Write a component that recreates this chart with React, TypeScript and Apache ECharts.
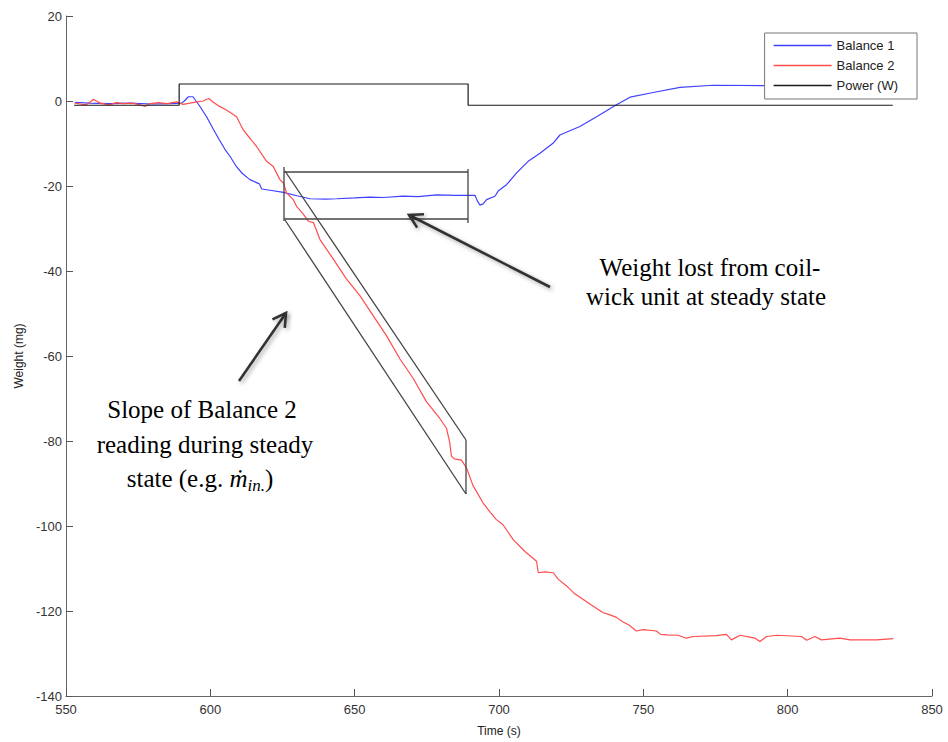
import React, { useEffect, useRef } from "react";
import * as echarts from "echarts";

const xTicks = { min: 550, max: 850, interval: 50 };
const yTicks = { min: -140, max: 20, interval: 20 };

const b1Time = [553, 558, 565, 572, 580, 586, 590, 591, 592.4, 594, 596.4, 598.7, 601, 603, 605, 606.8, 609, 611, 613.7, 616, 617, 617.8, 620.7, 625.3, 630, 634.5, 640, 643.8, 650, 655.3, 660, 666.8, 672, 678.4, 685, 691.7, 692.5, 693.4, 694.5, 695.7, 698.6, 699.7, 702.6, 706.1, 710.1, 714.2, 718.8, 721.1, 728, 733.8, 740.7, 745.4, 753.4, 762.7, 774.2, 792, 810, 837];
const b1Value = [-0.3, -0.5, -0.6, -0.5, -0.7, -0.6, -0.5, 0, 1, 1, -1.3, -3.7, -6.6, -9, -11.3, -13, -15.4, -17, -18.5, -19.2, -19.5, -20.7, -21, -21.5, -22.3, -23, -23.1, -23, -22.8, -22.6, -22.7, -22.4, -22.5, -22.1, -22.2, -22.2, -23.5, -24.5, -24.2, -23.2, -22.4, -21.2, -19.7, -16.9, -14.2, -12.3, -9.9, -8, -6, -3.7, -0.9, 0.9, 2, 3.2, 3.7, 3.6, 3.6, 3.6];

const b2Time = [553, 555, 557, 558.5, 559.5, 560.5, 561.8, 565, 567.5, 570, 573, 575, 577.4, 579, 582, 585, 588.3, 590.6, 593, 595.3, 597.6, 598.7, 599.5, 601, 603, 605.6, 609.1, 611.4, 614, 616, 619.5, 621.8, 624.1, 625.3, 626.4, 628.7, 629.9, 632.2, 634, 635.7, 638, 642.6, 647.2, 651.8, 656.4, 661, 665.7, 670.3, 674.9, 679.5, 681.8, 682.9, 683.5, 684.5, 687, 688.8, 691, 694.5, 697, 699.1, 701.4, 704.9, 709, 713, 713.6, 716, 718.8, 720.5, 723.4, 726, 729.2, 732, 736.1, 738, 740.7, 743, 745, 747.6, 750, 754.5, 756, 758, 762, 764.9, 767.2, 775.3, 778.8, 780.5, 783.5, 788.7, 790.4, 792.7, 796.2, 804.8, 806.6, 809.4, 811.7, 818.1, 821.6, 830.8, 836.6];
const b2Value = [-0.5, -0.7, -0.9, -0.2, 0.4, 0, -0.5, -0.9, -0.4, -0.6, -0.5, -0.8, -1.3, -0.6, -0.4, -0.6, -0.2, -0.8, -0.5, -0.2, 0, 0.4, 0.6, -0.3, -1.2, -2.1, -3.7, -6.8, -9, -10.7, -14.2, -15.4, -18.5, -19.3, -21.6, -23.2, -24.8, -26.6, -28.3, -28.6, -32.6, -37.2, -41.9, -45.8, -50.5, -55.2, -60.7, -65.3, -70.8, -74.7, -77, -80.2, -83.5, -84.2, -84.5, -86.4, -90.5, -94.6, -96.8, -98.5, -99.7, -103.2, -106, -108.3, -111, -110.8, -111, -112.5, -114.1, -115.8, -117.3, -118.6, -120.4, -120.8, -121.5, -122.6, -123.3, -124.7, -124.4, -124.7, -125.5, -125.6, -125.7, -126.4, -126, -125.8, -125.5, -126.8, -125.7, -126.4, -127.2, -126, -125.7, -126, -126.9, -126, -126.8, -126.4, -126.8, -126.8, -126.5];

const powerTime = [552.8, 589.2, 589.2, 689.3, 689.3, 836.4];
const powerValue = [-1, -1, 4, 4, -1, -1];

const seriesNames = ["Balance 1", "Balance 2", "Power (W)"];
const seriesColors = ["#4040ff", "#ff4d4d", "#1a1a1a"];

const zip = (t: number[], v: number[]) => t.map((x, i) => [x, v[i]]);

function arrow(tip: number[], tail: number[], len = 15, angDeg = 30) {
  const dx = tail[0] - tip[0];
  const dy = tail[1] - tip[1];
  const d = Math.hypot(dx, dy);
  const ux = dx / d, uy = dy / d;
  const a = (angDeg * Math.PI) / 180;
  const rot = (s: number) => [
    tip[0] + len * (ux * Math.cos(s * a) - uy * Math.sin(s * a)),
    tip[1] + len * (ux * Math.sin(s * a) + uy * Math.cos(s * a)),
  ];
  const st = {
    stroke: "#333",
    lineWidth: 2.6,
    fill: null,
    shadowBlur: 4,
    shadowColor: "rgba(0,0,0,0.35)",
    shadowOffsetX: 2,
    shadowOffsetY: 2,
  };
  return [
    { type: "line", z: 100, shape: { x1: tip[0], y1: tip[1], x2: tail[0], y2: tail[1] }, style: st },
    { type: "polyline", z: 100, shape: { points: [rot(1), tip, rot(-1)] }, style: st },
  ];
}

function seg(x1: number, y1: number, x2: number, y2: number) {
  return { type: "line", z: 100, shape: { x1, y1, x2, y2 }, style: { stroke: "#444", lineWidth: 1.3 } };
}

const serif = "'Liberation Serif', 'Times New Roman', serif";
const sans = "'Liberation Sans', Arial, Helvetica, sans-serif";

function label(text: string, x: number, y: number) {
  return {
    type: "text",
    z: 100,
    x,
    y,
    style: { text, font: `25px ${serif}`, fill: "#000", align: "center", verticalAlign: "middle" },
  };
}

export default function App() {
  const ref = useRef<HTMLDivElement>(null);
  useEffect(() => {
    if (!ref.current) return;
    const chart = echarts.init(ref.current, null, { renderer: "svg" });
    const datas = [zip(b1Time, b1Value), zip(b2Time, b2Value), zip(powerTime, powerValue)];
    chart.setOption({
      animation: false,
      backgroundColor: "#fff",
      textStyle: { fontFamily: sans },
      grid: { left: 66, right: 16, top: 16, bottom: 43, containLabel: false },
      legend: {
        data: seriesNames.map((name) => ({ name, icon: "rect" })),
        orient: "vertical",
        right: 31,
        top: 33,
        padding: [6, 19, 7, 9],
        itemGap: 7,
        itemWidth: 58,
        itemHeight: 1.5,
        backgroundColor: "#fff",
        borderColor: "#777",
        borderWidth: 1,
        borderRadius: 0,
        z: 20,
        textStyle: { fontSize: 13, color: "#222", fontFamily: sans, lineHeight: 13 },
      },
      xAxis: {
        type: "value",
        ...xTicks,
        name: "Time (s)",
        nameLocation: "middle",
        nameGap: 29,
        nameTextStyle: { fontSize: 12, color: "#222", fontFamily: sans },
        axisLine: { show: true, onZero: false, lineStyle: { color: "#666", width: 1 } },
        axisTick: { show: true, inside: true, length: 7, lineStyle: { color: "#555" } },
        axisLabel: { fontSize: 13, color: "#333", margin: 7 },
        splitLine: { show: false },
      },
      yAxis: {
        type: "value",
        ...yTicks,
        name: "Weight (mg)",
        nameLocation: "middle",
        nameGap: 40,
        nameTextStyle: { fontSize: 12, color: "#222", fontFamily: sans },
        axisLine: { show: true, onZero: false, lineStyle: { color: "#666", width: 1 } },
        axisTick: { show: true, inside: true, length: 7, lineStyle: { color: "#555" } },
        axisLabel: { fontSize: 13, color: "#333", margin: 4 },
        splitLine: { show: false },
      },
      series: seriesNames.map((name, i) => ({
        name,
        type: "line",
        data: datas[i],
        symbol: "none",
        smooth: false,
        color: seriesColors[i],
        lineStyle: { width: 1.2, color: seriesColors[i] },
        z: i === 2 ? 3 : 2,
      })),
      graphic: [
        seg(284, 172, 468, 172),
        seg(284, 219, 468, 219),
        seg(284, 167, 284, 221),
        seg(468, 169, 468, 223),
        seg(285, 171, 466, 440),
        seg(466, 440, 466, 494),
        seg(285, 220, 466, 494),
        ...arrow([409, 215], [550, 287]),
        ...arrow([286, 313], [239, 381]),
        label("Weight lost from coil-", 710, 267),
        label("wick unit at steady state", 706, 296),
        label("Slope of Balance 2", 202, 409),
        label("reading during steady", 205, 444),
        {
          type: "text",
          z: 100,
          x: 200,
          y: 478,
          style: {
            text: "{n|state (e.g. }{m|ṁ}{s|in.}{n|)}",
            fill: "#000",
            align: "center",
            verticalAlign: "middle",
            rich: {
              n: { fontSize: 25, fontFamily: serif, fill: "#000", lineHeight: 32 },
              m: { fontSize: 25, fontFamily: serif, fontStyle: "italic", fill: "#000", lineHeight: 32 },
              s: { fontSize: 17, fontFamily: serif, fontStyle: "italic", fill: "#000", lineHeight: 32, verticalAlign: "bottom", padding: [10, 0, 0, 0] },
            },
          },
        },
      ],
    });
    return () => chart.dispose();
  }, []);
  return <div ref={ref} style={{ position: "fixed", left: 0, top: 0, width: 948, height: 742 }} />;
}
